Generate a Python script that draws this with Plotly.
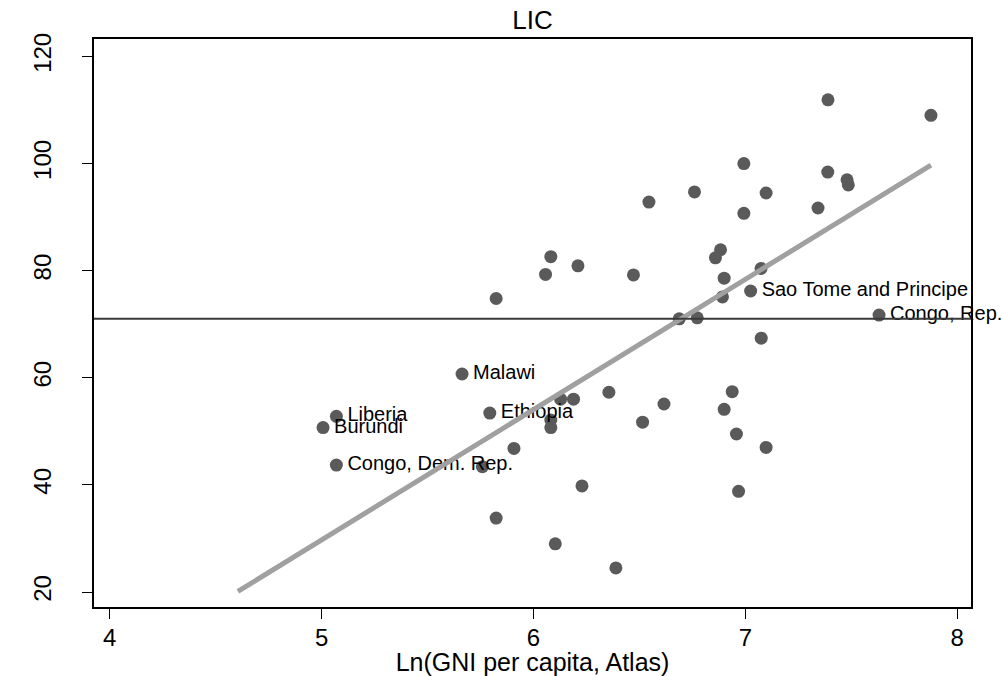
import plotly.graph_objects as go

# Unlabeled points: ln(GNI per capita) and indicator value
pts_x = [5.759, 5.908, 6.082, 6.082, 6.128, 6.189, 6.356, 6.515, 6.229, 5.824,
         6.103, 6.389, 5.824, 6.082, 6.057, 6.210, 6.472, 6.545, 6.760, 6.688,
         6.773, 7.390, 7.876, 6.993, 7.389, 7.480, 7.486, 7.098, 6.993, 7.343,
         6.883, 6.859, 6.900, 7.074, 6.892, 7.075, 6.616, 6.938, 6.900, 6.958,
         7.098, 6.968]
pts_y = [43.4, 46.8, 52.1, 50.7, 56.0, 56.0, 57.3, 51.7, 39.8, 33.8,
         29.0, 24.5, 74.8, 82.6, 79.3, 80.9, 79.2, 92.8, 94.7, 71.0,
         71.2, 111.9, 109.0, 100.0, 98.4, 96.95, 96.0, 94.5, 90.7, 91.7,
         83.9, 82.4, 78.6, 80.4, 75.1, 67.4, 55.1, 57.4, 54.1, 49.5,
         47.0, 38.8]

# Labeled countries
lab_names = ["Burundi", "Liberia", "Congo, Dem. Rep.", "Malawi", "Ethiopia",
             "Sao Tome and Principe", "Congo, Rep."]
lab_x = [5.007, 5.070, 5.070, 5.663, 5.794, 7.025, 7.631]
lab_y = [50.7, 52.8, 43.7, 60.7, 53.4, 76.2, 71.7]

# Fitted line endpoints and reference level
fit_x = [4.605, 7.876]
fit_y = [20.1, 99.7]
ref_level = 71.0

x_ticks = [4, 5, 6, 7, 8]
y_ticks = [20, 40, 60, 80, 100, 120]

FONT = "Liberation Sans, Arial, Helvetica, sans-serif"
MARK = "#5a5a5a"

fig = go.Figure()
fig.add_trace(go.Scatter(x=pts_x + lab_x, y=pts_y + lab_y, mode="markers",
                         marker=dict(size=13, color=MARK, line=dict(width=0)),
                         showlegend=False, hoverinfo="skip"))
fig.add_trace(go.Scatter(x=lab_x, y=lab_y, mode="markers+text", text=lab_names,
                         textposition="middle right",
                         textfont=dict(family=FONT, size=20, color="#000000"),
                         marker=dict(size=16, color="rgba(0,0,0,0)"),
                         showlegend=False, hoverinfo="skip", cliponaxis=False))
fig.add_trace(go.Scatter(x=fit_x, y=fit_y, mode="lines",
                         line=dict(color="#a0a0a0", width=5),
                         showlegend=False, hoverinfo="skip"))
fig.add_hline(y=ref_level, line=dict(color="#3a3a3a", width=2), layer="above")

fig.update_layout(
    width=1003, height=676,
    margin=dict(l=94, r=32, t=39, b=69),
    paper_bgcolor="white", plot_bgcolor="white",
    font=dict(family=FONT, color="#000000"),
    title=dict(text="LIC", x=0.531, xanchor="center", yref="container",
               y=1 - 20 / 676, yanchor="middle",
               font=dict(family=FONT, size=26, color="#000000")),
    xaxis=dict(range=[3.926, 8.065], tickvals=x_ticks, ticks="outside",
               ticklen=10, tickwidth=1, tickcolor="#000000",
               showline=True, linecolor="#000000", linewidth=1.5, mirror=True,
               showgrid=False, zeroline=False, automargin=False,
               tickfont=dict(family=FONT, size=24, color="#000000"),
               ticklabelstandoff=-2,
               title=dict(text="Ln(GNI per capita, Atlas)", standoff=10,
                          font=dict(family=FONT, size=25, color="#000000"))),
    yaxis=dict(range=[17.2, 123.25], tickvals=y_ticks, ticks="outside",
               ticklen=10, tickwidth=1, tickcolor="#000000", tickangle=-90,
               showline=True, linecolor="#000000", linewidth=1.5, mirror=True,
               showgrid=False, zeroline=False, automargin=False,
               tickfont=dict(family=FONT, size=24, color="#000000"),
               ticklabelstandoff=22),
)

fig.write_html("out.html", config={"displayModeBar": False},
               post_script="document.body.style.margin='0';")
